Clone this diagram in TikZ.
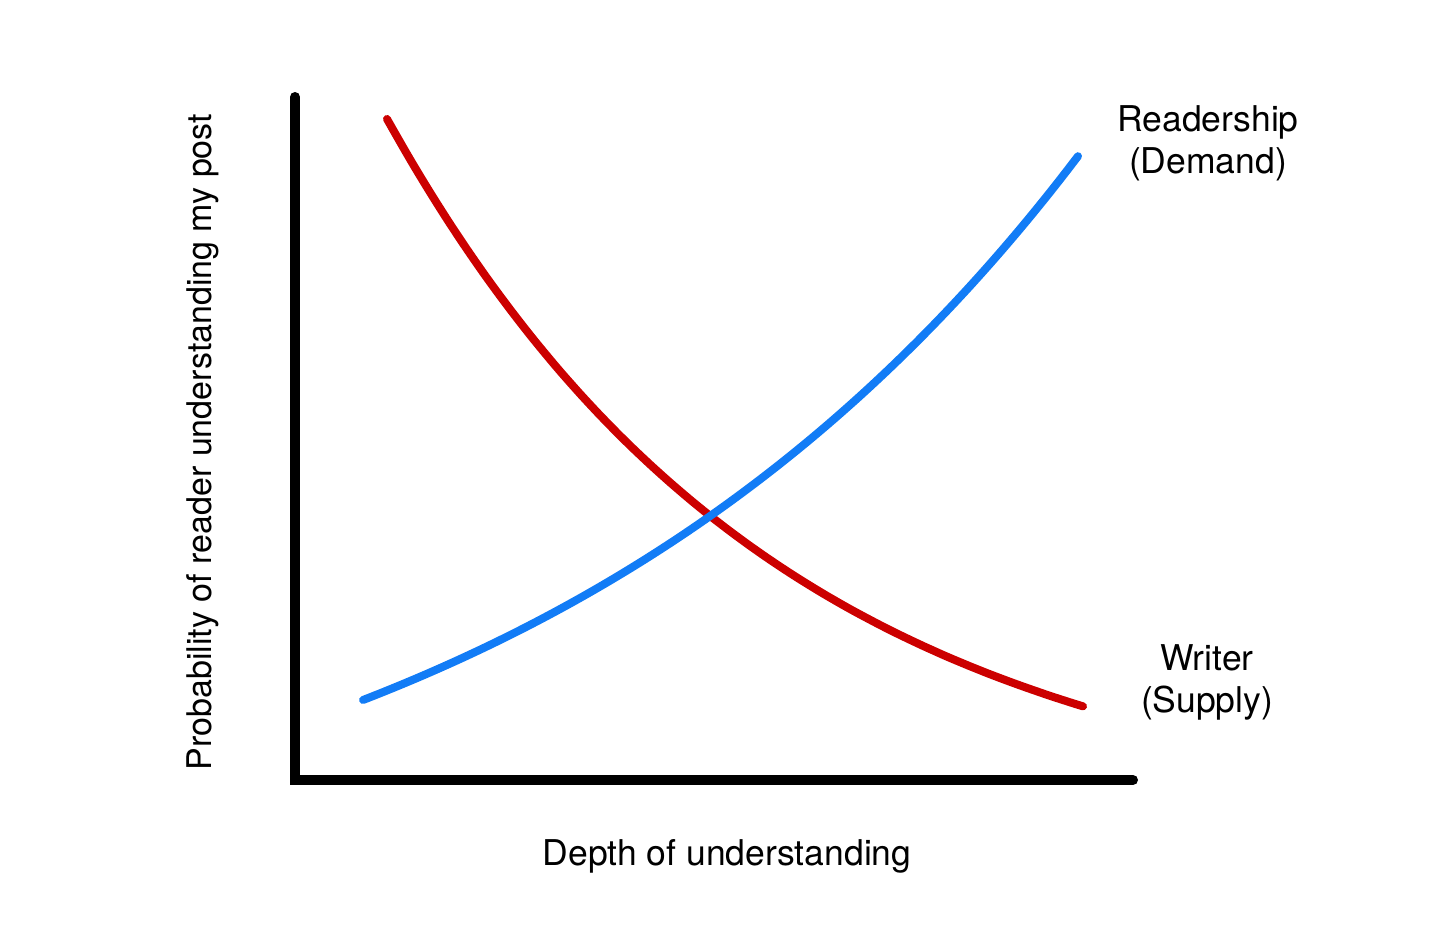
\documentclass[tikz,border=0pt]{standalone}
\usepackage{fontspec}
\setmainfont{TeX Gyre Heros}
\usetikzlibrary{positioning}
\definecolor{demandred}{RGB}{204,0,0}
\definecolor{supplyblue}{RGB}{18,124,246}

\begin{document}
\begin{tikzpicture}[x=1pt,y=-1pt,
  axis line/.style={line width=10pt,line cap=round,black},
  curve/.style={line width=8pt,line cap=round,smooth,samples=80},
  lbl/.style={font=\fontsize{35.5}{42}\selectfont,align=center,inner sep=0pt}]
  \useasboundingbox (0,0) rectangle (1456,942);
  % axes
  \coordinate (origin) at (295,780);
  \coordinate (ytop) at (295,97);
  \coordinate (xend) at (1133,780);
  \draw[axis line] (ytop) -- (origin) -- (xend);
  % writer curve (supply)
  \draw[curve,demandred] plot[domain=387:1083]
    (\x,{826.4-707.4*exp(-0.00255*(\x-387))});
  % readership curve (demand)
  \draw[curve,supplyblue] plot[domain=363:1078]
    (\x,{927.2-227.2*exp(0.00171*(\x-363))});
  % labels
  \node[lbl] (readers) at (1208,143) {Readership\\(Demand)};
  \node[lbl] (writer) at (1207,682) {Writer\\(Supply)};
  \node[lbl] (xlabel) at (727,856) {Depth of understanding};
  \node[lbl,font=\fontsize{34}{40}\selectfont,rotate=90] (ylabel) at (203,442)
    {Probability of reader understanding my post};
\end{tikzpicture}
\end{document}
